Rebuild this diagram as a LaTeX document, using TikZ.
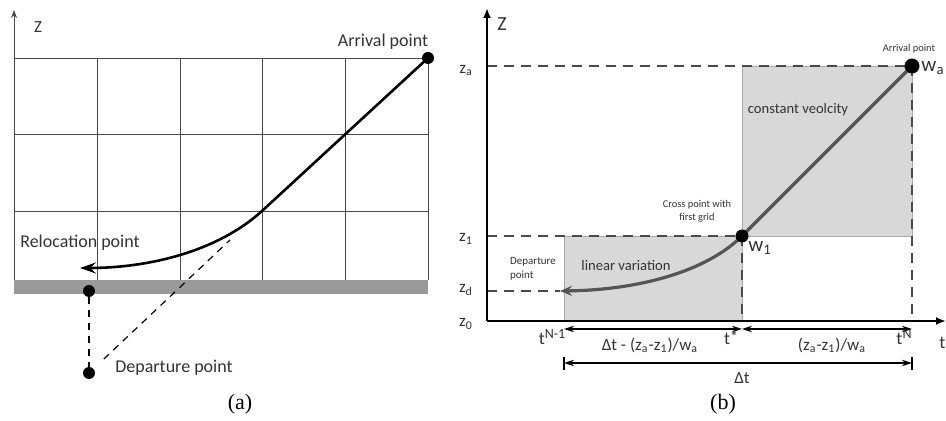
\documentclass[tikz,border=0pt]{standalone}
\usepackage{fontspec}
\setmainfont{Carlito}
\newfontfamily\capfont{Liberation Serif}
\usetikzlibrary{arrows.meta}
\definecolor{gridgray}{HTML}{4A4A4A}
\definecolor{bargray}{HTML}{9A9A9A}
\definecolor{boxgray}{HTML}{D8D8D8}
\definecolor{boxline}{HTML}{A8A8A8}
\definecolor{curvegray}{HTML}{555555}
\definecolor{textgray}{HTML}{333333}
\newcommand{\fsz}[1]{\fontsize{#1}{#1}\selectfont}
\newcommand{\supx}[1]{\raisebox{0.32em}{\fsz{7}#1}}

\begin{document}
\begin{tikzpicture}[x=0.5pt, y=-0.5pt,
    dot/.style={circle, fill=black, inner sep=0pt, minimum size=#1},
    dot/.default=5pt,
    lbl/.style={text=textgray, inner sep=0pt},
    guideA/.style={draw=black, line width=0.6pt, dash pattern=on 3.5pt off 3pt},
    guideB/.style={draw=gridgray, line width=0.9pt, dash pattern=on 5pt off 3.5pt},
    dimline/.style={draw=black, line width=0.6pt, {Stealth[length=5pt,width=3.2pt]}-{Stealth[length=5pt,width=3.2pt]}}
]
  \useasboundingbox (0,0) rectangle (946,421);

  % ----- (a) -----
  % Gitter
  \foreach \x in {97,180,262,345,428}
    \draw[gridgray, line width=0.4pt] (\x,58) -- (\x,280);
  \foreach \y in {58,134,211}
    \draw[gridgray, line width=0.4pt] (14,\y) -- (428,\y);
  % Boden
  \fill[bargray] (14,280) rectangle (428,294);
  % Achse
  \coordinate (zAbase) at (14,280);
  \coordinate (zAtop) at (14,10);
  \draw[gridgray, line width=0.5pt, -{Stealth[length=4pt,width=3pt]}] (zAbase) -- (zAtop);

  \coordinate (kinkA) at (262,211);
  \coordinate (endA) at (80,268);
  \coordinate (dashA) at (230,240);
  \node[dot=6pt] (arrA) at (428,58) {};
  \node[dot=6pt] (relA) at (89,291) {};
  \node[dot=6pt] (depA) at (89,373) {};

  % Bahn
  \draw[line width=1.3pt, -{Stealth[length=8pt,width=5.5pt,inset=3pt]}]
    (arrA.center) -- (kinkA) .. controls (218,251) and (150,268) .. (endA);
  \draw[guideA] (relA) -- (depA);
  \draw[guideA, shorten <=7pt] (depA) -- (dashA);

  % Beschriftung
  \node[lbl, font=\fsz{8.5}] (zA) at (38,27) {Z};
  \node[lbl, font=\fsz{9}] (arrAtxt) at (383,42) {Arrival point};
  \node[lbl, font=\fsz{9}] (relAtxt) at (80,243) {Relocation point};
  \node[lbl, font=\fsz{9}] (depAtxt) at (174,368) {Departure point};
  \node[font=\capfont\fsz{11}] (capA) at (240,404) {(a)};

  % ----- (b) -----
  % Flaechen
  \fill[boxgray, draw=boxline, line width=0.3pt] (564,236) rectangle (742,321);
  \fill[boxgray, draw=boxline, line width=0.3pt] (742,66) rectangle (912,236);

  \coordinate (origB) at (487,321);
  \coordinate (zBtop) at (487,8);
  \coordinate (tBend) at (946,321);
  \coordinate (zaB) at (487,66);
  \coordinate (z1B) at (487,236);
  \coordinate (zdB) at (487,291);
  \coordinate (wa) at (912,66);
  \coordinate (w1) at (742,236);
  \coordinate (depB) at (560,291);
  \coordinate (tstarB) at (742,321);
  \coordinate (tNB) at (912,321);

  % Hilfslinien
  \draw[guideB] (zaB) -- (wa);
  \draw[guideB] (z1B) -- (w1);
  \draw[guideB] (zdB) -- (depB);
  \draw[guideB] (w1) -- (tstarB);
  \draw[guideB] (wa) -- (tNB);

  % Achsen
  \draw[line width=1pt, -{Latex[length=5pt,width=4pt]}] (origB) -- (zBtop);
  \draw[line width=1pt, -{Latex[length=5pt,width=4pt]}] (origB) -- (tBend);

  % Bahn
  \draw[curvegray, line width=1.6pt, -{Stealth[length=6pt,width=5pt,inset=2pt]}]
    (wa) -- (w1) .. controls (707,271) and (640,290) .. (depB);
  \node[dot=7.5pt] (waDot) at (wa) {};
  \node[dot=6.5pt] (w1Dot) at (w1) {};

  % Masse
  \coordinate (d1l) at (564,329);
  \coordinate (d1m) at (742,329);
  \coordinate (d1r) at (912,329);
  \coordinate (d2l) at (564,363);
  \coordinate (d2r) at (912,363);
  \draw[dimline] (d1l) -- (d1m);
  \draw[dimline] (d1m) -- (d1r);
  \draw[dimline] (d2l) -- (d2r);
  \draw[line width=0.7pt] ([yshift=3pt]d2l) -- ([yshift=-3.5pt]d2l);
  \draw[line width=0.7pt] ([yshift=3pt]d2r) -- ([yshift=-3.5pt]d2r);

  % Beschriftung
  \node[lbl, font=\fsz{10}] (zB) at (502,24) {Z};
  \node[lbl, font=\fsz{8.5}] (zaTxt) at (466,70) {z\textsubscript{a}};
  \node[lbl, font=\fsz{8.5}] (z1Txt) at (466,239) {z\textsubscript{1}};
  \node[lbl, font=\fsz{8.5}] (zdTxt) at (466,290) {z\textsubscript{d}};
  \node[lbl, font=\fsz{8.5}] (z0Txt) at (466,324) {z\textsubscript{0}};
  \node[lbl, font=\fsz{10.5}] (waTxt) at (933,68) {w\textsubscript{a}};
  \node[lbl, font=\fsz{10.5}] (w1Txt) at (760,248) {w\textsubscript{1}};
  \node[lbl, font=\fsz{5.2}] (arrBtxt) at (909,49) {Arrival point};
  \node[lbl, font=\fsz{5.2}, align=center] (crossTxt) at (697,211) {Cross point with\\[1.5pt]first grid};
  \node[lbl, font=\fsz{5.5}, align=left] (depBtxt) at (533,269) {Departure\\[1.5pt]point};
  \node[lbl, font=\fsz{7.3}] (linTxt) at (626,265) {linear variation};
  \node[lbl, font=\fsz{7.3}] (constTxt) at (798,110) {constant veolcity};
  \node[lbl, font=\fsz{9}] (tN1Txt) at (552,337) {t\supx{N-1}};
  \node[lbl, font=\fsz{9}] (tstarTxt) at (731,338) {t\raisebox{0.1em}{\fsz{8}*}};
  \node[lbl, font=\fsz{9}] (tNTxt) at (904,337) {t\supx{N}};
  \node[lbl, font=\fsz{8.5}] (dt1Txt) at (650,345) {Δt - (z\textsubscript{a}-z\textsubscript{1})/w\textsubscript{a}};
  \node[lbl, font=\fsz{8.5}] (dt2Txt) at (832,345) {(z\textsubscript{a}-z\textsubscript{1})/w\textsubscript{a}};
  \node[lbl, font=\fsz{8.5}] (dtTxt) at (742,378) {Δt};
  \node[lbl, font=\fsz{9}, anchor=west] (tTxt) at (939,343) {t};
  \node[font=\capfont\fsz{11}] (capB) at (723,404) {(b)};
\end{tikzpicture}
\end{document}
